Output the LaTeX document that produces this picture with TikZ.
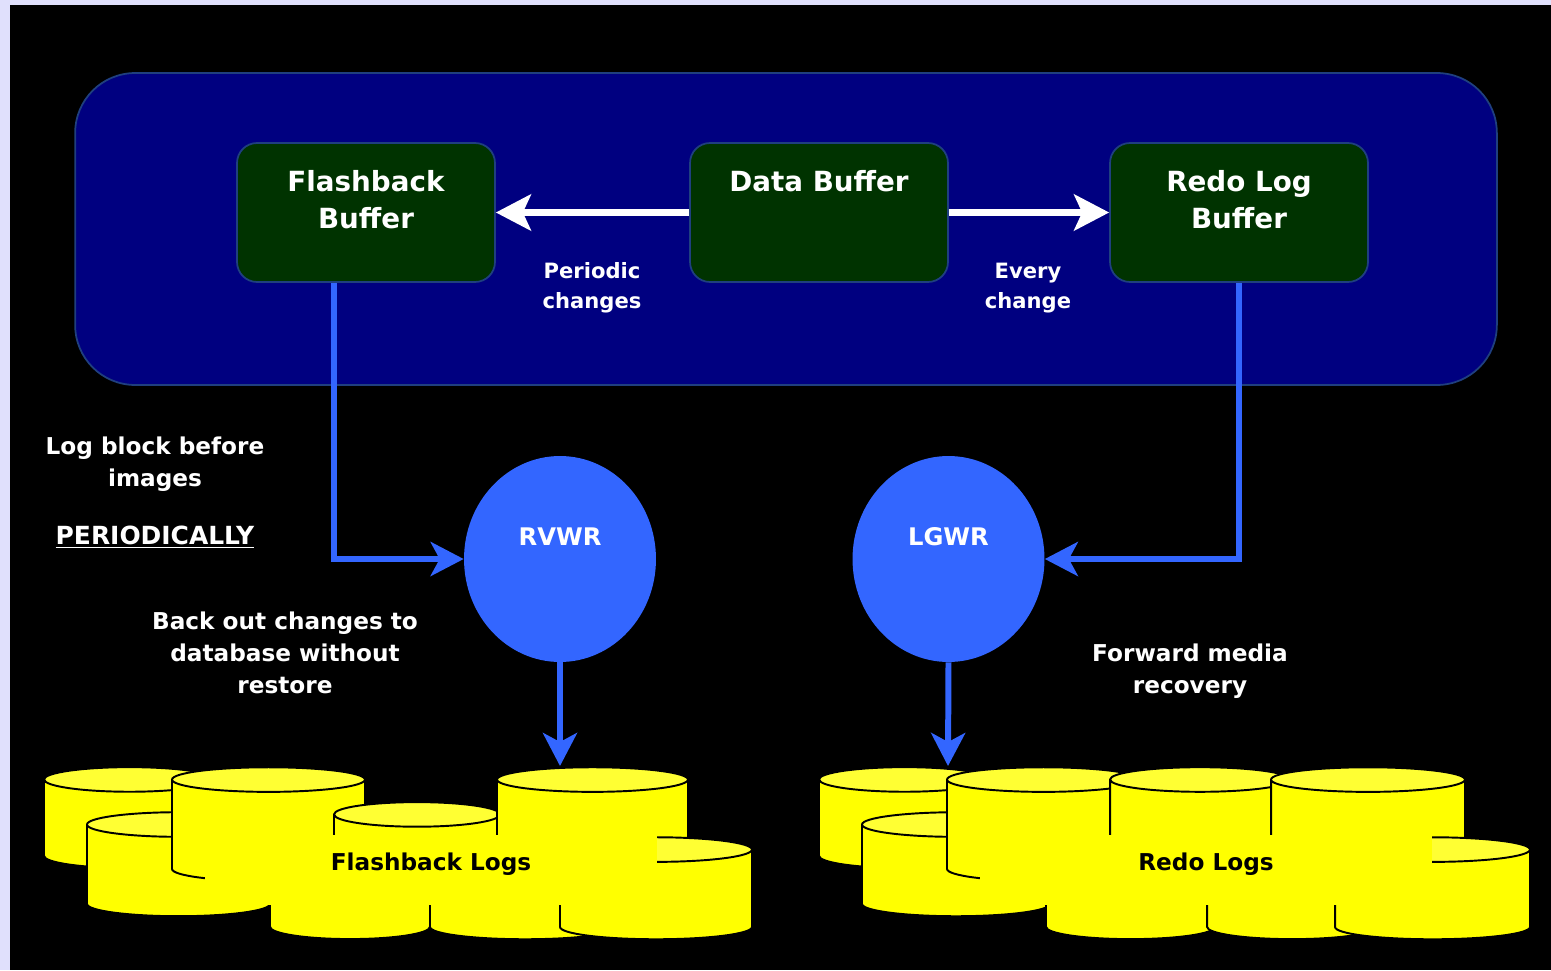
\documentclass[tikz,border=0pt]{standalone}
\usepackage{fontspec}
\setmainfont{DejaVu Sans}
\usetikzlibrary{shapes.geometric,arrows.meta,positioning}
\definecolor{lavender}{HTML}{E0E0FC}
\definecolor{sganavy}{HTML}{000080}
\definecolor{bufgreen}{HTML}{003300}
\definecolor{edgeblue}{HTML}{1F3F7F}
\definecolor{procblue}{HTML}{3366FF}
\definecolor{logyellow}{HTML}{FFFF00}
\definecolor{logtop}{HTML}{FFFF33}

\begin{document}
\begin{tikzpicture}
[x=0.02cm,y=-0.02cm,
sga/.style={draw=edgeblue,line width=1pt,fill=sganavy,rounded corners=1.2cm,
minimum width=28.44cm,minimum height=6.24cm},
buf/.style={draw=edgeblue,line width=1pt,fill=bufgreen,rounded corners=0.4cm,
minimum width=5.16cm,minimum height=2.78cm},
title/.style={text=white,inner sep=0pt,align=center,
font=\fontsize{15.8pt}{21pt}\selectfont\bfseries},
note/.style={text=white,inner sep=0pt,align=center,
font=\fontsize{13.2pt}{18.1pt}\selectfont\bfseries},
small note/.style={text=white,inner sep=0pt,align=center,
font=\fontsize{12pt}{16.8pt}\selectfont\bfseries},
proc/.style={ellipse,fill=procblue,text=white,inner sep=0pt,
minimum width=3.84cm,minimum height=4.12cm,text height=0.36cm,text depth=0.92cm,
font=\fontsize{13.8pt}{16pt}\selectfont\bfseries},
disk/.style={cylinder,shape border rotate=90,aspect=2.1,draw=black,line width=1.1pt,
cylinder uses custom fill,cylinder body fill=logyellow,cylinder end fill=logtop},
logbox/.style={fill=logyellow,inner sep=0pt,minimum width=9.06cm,minimum height=1.4cm,
text height=0.35cm,text depth=0.35cm,font=\fontsize{13.2pt}{16pt}\selectfont\bfseries},
flow/.style={draw=white,line width=4pt,-{Stealth[length=0.7cm,width=0.72cm,inset=0.16cm]}},
feed/.style={draw=procblue,line width=3.4pt,-{Stealth[length=0.66cm,width=0.68cm,inset=0.18cm]}}]
\useasboundingbox (0,0) rectangle (1551,970);
\fill[lavender] (0,0) rectangle (1551,970);
\fill[black] (10,5) rectangle (1551,970);
\node[sga] (sga) at (786,229) {};
\node[buf] (fbuf) at (366,212.5) {};
\node[buf] (dbuf) at (819,212.5) {};
\node[buf] (rbuf) at (1239,212.5) {};
\node[title,below=0.56cm of fbuf.north] (fbuftxt) {Flashback\\Buffer};
\node[title,below=0.56cm of dbuf.north] (dbuftxt) {Data Buffer};
\node[title,below=0.56cm of rbuf.north] (rbuftxt) {Redo Log\\Buffer};
\draw[flow] (dbuf.west) -- (fbuf.east);
\draw[flow] (dbuf.east) -- (rbuf.west);
\node[small note] (pertxt) at (592,288) {Periodic\\changes};
\node[small note] (evtxt) at (1028,288) {Every\\change};
\node[note] (logtxt) at (155,464) {Log block before\\images};
\node[note,font=\fontsize{14.2pt}{17pt}\selectfont\bfseries] (periodtxt) at (155,537) {\underline{PERIODICALLY}};
\node[note] (backtxt) at (285,653) {Back out changes to\\database without\\restore};
\node[note] (fwdtxt) at (1190,671) {Forward media\\recovery};
\node[proc] (rvwr) at (560,559) {RVWR};
\node[proc] (lgwr) at (948.5,559) {LGWR};
\draw[feed] ([xshift=-18.1pt]fbuf.south) |- (rvwr.west);
\draw[feed] (rbuf.south) |- (lgwr.east);
\node[disk,minimum width=3.42cm,minimum height=2.02cm] (flA) at (129.5,826.5) {};
\node[disk,minimum width=3.66cm,minimum height=2.08cm] (flC) at (178.5,873) {};
\node[disk,minimum width=3.86cm,minimum height=2.28cm] (flB) at (268.5,833) {};
\node[disk,minimum width=3.32cm,minimum height=2.08cm] (flD) at (417,863) {};
\node[disk,minimum width=3.82cm,minimum height=2.28cm] (flE) at (592.5,833) {};
\node[disk,minimum width=3.2cm,minimum height=2cm] (flF) at (350,898) {};
\node[disk,minimum width=3.8cm,minimum height=2cm] (flG) at (525,898) {};
\node[disk,minimum width=3.84cm,minimum height=2.04cm] (flH) at (656,897) {};
\node[logbox] (fllogs) at (431,870) {Flashback Logs};
\node[disk,minimum width=3.42cm,minimum height=2.02cm] (rlA) at (904.5,826.5) {};
\node[disk,minimum width=3.76cm,minimum height=2.08cm] (rlC) at (956,873) {};
\node[disk,minimum width=3.86cm,minimum height=2.28cm] (rlB) at (1043.5,833) {};
\node[disk,minimum width=3.6cm,minimum height=2.28cm] (rlD) at (1200,833) {};
\node[disk,minimum width=3.88cm,minimum height=2.28cm] (rlE) at (1368,833) {};
\node[disk,minimum width=3.38cm,minimum height=2cm] (rlF) at (1130.5,898) {};
\node[disk,minimum width=3.4cm,minimum height=2cm] (rlG) at (1292,898) {};
\node[disk,minimum width=3.9cm,minimum height=2.04cm] (rlH) at (1432.5,897) {};
\node[logbox] (rllogs) at (1206,870) {Redo Logs};
\coordinate (fltop) at (560,766);
\coordinate (rltop) at (948,766);
\draw[feed] (rvwr.south) -- (fltop);
\draw[feed] (lgwr.south) -- (rltop);
\end{tikzpicture}
\end{document}
